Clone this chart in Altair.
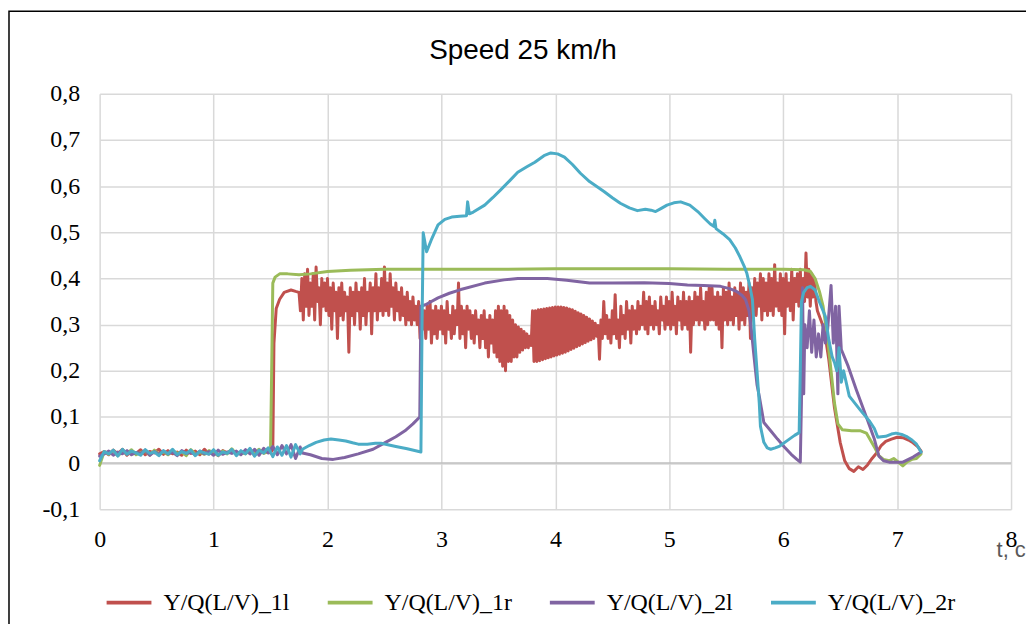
import altair as alt
import pandas as pd

SERIES = ["Y/Q(L/V)_1l", "Y/Q(L/V)_1r", "Y/Q(L/V)_2l", "Y/Q(L/V)_2r"]
COLORS = ["#C0504D", "#9BBB59", "#8064A2", "#4BACC6"]
X_TICKS = [0, 1, 2, 3, 4, 5, 6, 7, 8]
Y_TICKS = [-0.1, 0, 0.1, 0.2, 0.3, 0.4, 0.5, 0.6, 0.7, 0.8]
TITLE = "Speed 25 km/h"
X_TITLE = "t, c"

# ---- low-level start (t = 0, 0.04, 0.08, ...) ----
RED_START = [0.02, 0.025, 0.018, 0.028, 0.02, 0.03, 0.017, 0.026, 0.021, 0.029,
             0.018, 0.025, 0.022, 0.03, 0.019, 0.027, 0.02, 0.024, 0.017, 0.028,
             0.021, 0.026, 0.018, 0.03, 0.02, 0.025, 0.016, 0.027, 0.022, 0.029,
             0.019, 0.024, 0.021, 0.028, 0.017, 0.026, 0.022, 0.025]
GREEN_START = [-0.005, 0.025, 0.019, 0.027, 0.016, 0.024, 0.021, 0.029, 0.018, 0.023,
               0.026, 0.017, 0.028, 0.02, 0.024, 0.018, 0.027, 0.021, 0.025, 0.016,
               0.029, 0.02, 0.023, 0.019, 0.027, 0.022, 0.017, 0.026, 0.02, 0.031,
               0.019, 0.024, 0.02, 0.028, 0.022, 0.03, 0.021, 0.025]
PURPLE_START = [0.015, 0.02, 0.026, 0.017, 0.024, 0.02, 0.027, 0.018, 0.023, 0.021,
                0.028, 0.017, 0.025, 0.019, 0.026, 0.02, 0.024, 0.016, 0.027, 0.021,
                0.023, 0.018, 0.026, 0.02, 0.025, 0.017, 0.028, 0.019, 0.024, 0.021,
                0.026, 0.018, 0.029, 0.02, 0.03, 0.017, 0.032, 0.022, 0.036, 0.018,
                0.038, 0.02, 0.04, 0.01, 0.035]
BLUE_START = [0.005, 0.025, 0.02, 0.028, 0.015, 0.03, 0.019, 0.026, 0.022, 0.017,
              0.029, 0.021, 0.024, 0.016, 0.027, 0.02, 0.03, 0.018, 0.025, 0.021,
              0.028, 0.016, 0.026, 0.022, 0.019, 0.029, 0.017, 0.024, 0.021, 0.03,
              0.016, 0.027, 0.02, 0.032, 0.015, 0.028, 0.022, 0.033, 0.014, 0.035,
              0.017, 0.038, 0.013, 0.04, 0.02]

# ---- red noisy middle (t = 1.75, 1.7625, ... 6.30) ----
RED_MID = [
    0.37, 0.33, 0.40, 0.31, 0.41, 0.34, 0.42, 0.32, 0.39, 0.34,
    0.41, 0.31, 0.425, 0.35, 0.38, 0.30, 0.40, 0.34, 0.39, 0.33,
    0.40, 0.32, 0.38, 0.29, 0.39, 0.33, 0.37, 0.27, 0.38, 0.32,
    0.39, 0.31, 0.37, 0.33, 0.36, 0.24, 0.38, 0.32, 0.37, 0.30,
    0.39, 0.33, 0.37, 0.29, 0.38, 0.32, 0.40, 0.30, 0.37, 0.33,
    0.39, 0.28, 0.38, 0.33, 0.41, 0.31, 0.38, 0.33, 0.40, 0.32,
    0.425, 0.33, 0.39, 0.32, 0.41, 0.34, 0.38, 0.31, 0.39, 0.33,
    0.37, 0.31, 0.38, 0.32, 0.36, 0.30, 0.37, 0.31, 0.35, 0.30,
    0.36, 0.31, 0.34, 0.30, 0.35, 0.27, 0.34, 0.29, 0.33, 0.27,
    0.34, 0.29, 0.35, 0.26, 0.33, 0.28, 0.34, 0.27, 0.33, 0.29,
    0.34, 0.28, 0.33, 0.26, 0.35, 0.29, 0.32, 0.27, 0.34, 0.28,
    0.33, 0.30, 0.39, 0.27, 0.34, 0.28, 0.33, 0.25, 0.34, 0.29,
    0.33, 0.27, 0.32, 0.26, 0.33, 0.28, 0.31, 0.25, 0.32, 0.27,
    0.33, 0.25, 0.31, 0.23, 0.32, 0.26, 0.31, 0.24, 0.33, 0.23,
    0.34, 0.22, 0.33, 0.21, 0.34, 0.20, 0.33, 0.22, 0.32, 0.22,
    0.31, 0.23, 0.30, 0.23, 0.295, 0.24, 0.29, 0.245, 0.285, 0.25,
    0.28, 0.25, 0.275, 0.255, 0.33, 0.22, 0.33, 0.22, 0.332, 0.222,
    0.333, 0.224, 0.334, 0.226, 0.335, 0.228, 0.336, 0.23, 0.337, 0.232,
    0.338, 0.234, 0.338, 0.236, 0.338, 0.238, 0.337, 0.24, 0.336, 0.243,
    0.334, 0.246, 0.332, 0.249, 0.329, 0.252, 0.326, 0.255, 0.323, 0.258,
    0.32, 0.261, 0.316, 0.264, 0.312, 0.267, 0.308, 0.27, 0.303, 0.275,
    0.298, 0.225, 0.31, 0.27, 0.35, 0.28, 0.32, 0.27, 0.31, 0.26,
    0.33, 0.28, 0.365, 0.27, 0.31, 0.25, 0.34, 0.28, 0.32, 0.27,
    0.35, 0.29, 0.33, 0.26, 0.34, 0.29, 0.33, 0.28, 0.35, 0.29,
    0.34, 0.30, 0.37, 0.29, 0.35, 0.28, 0.36, 0.30, 0.34, 0.29,
    0.35, 0.30, 0.33, 0.28, 0.36, 0.31, 0.34, 0.29, 0.36, 0.30,
    0.35, 0.29, 0.37, 0.30, 0.34, 0.28, 0.36, 0.31, 0.35, 0.29,
    0.37, 0.30, 0.35, 0.29, 0.36, 0.24, 0.35, 0.30, 0.37, 0.31,
    0.36, 0.30, 0.38, 0.31, 0.35, 0.29, 0.37, 0.30, 0.38, 0.31,
    0.38, 0.31, 0.36, 0.30, 0.37, 0.29, 0.36, 0.25, 0.38, 0.31,
    0.37, 0.30, 0.39, 0.31, 0.36, 0.30, 0.38, 0.32, 0.37, 0.29,
    0.39, 0.31, 0.38, 0.30, 0.37, 0.32, 0.39, 0.27, 0.38, 0.32,
    0.40, 0.32, 0.39, 0.34, 0.41, 0.31, 0.40, 0.33, 0.39, 0.32,
    0.41, 0.33, 0.40, 0.32, 0.43, 0.34, 0.39, 0.33, 0.41, 0.32,
    0.40, 0.28, 0.41, 0.34, 0.39, 0.33, 0.42, 0.31, 0.40, 0.35,
    0.41, 0.34, 0.42, 0.33, 0.40, 0.35, 0.455, 0.36, 0.42, 0.34,
    0.41, 0.36, 0.40, 0.35, 0.33,
]

# ---- explicit (t, value) pieces ----
RED_RISE_T = [1.50, 1.52, 1.53, 1.55, 1.58, 1.62, 1.68, 1.72]
RED_RISE_V = [0.022, 0.03, 0.26, 0.335, 0.355, 0.37, 0.375, 0.372]
RED_TAIL_T = [6.33, 6.36, 6.40, 6.45, 6.50, 6.54, 6.58, 6.62, 6.66, 6.70, 6.74, 6.78,
              6.82, 6.86, 6.90, 6.95, 7.00, 7.05, 7.10, 7.14, 7.18, 7.21]
RED_TAIL_V = [0.31, 0.29, 0.225, 0.12, 0.045, 0.005, -0.012, -0.018, -0.008, -0.014,
              -0.004, 0.01, 0.022, 0.038, 0.047, 0.052, 0.056, 0.055, 0.05, 0.044,
              0.036, 0.026]

GREEN_T = [1.50, 1.51, 1.52, 1.54, 1.58, 1.65, 1.75, 1.85, 2.0, 2.2, 2.5, 3.0, 3.5,
           4.0, 4.5, 5.0, 5.5, 6.0, 6.18, 6.24, 6.28, 6.32, 6.35, 6.39, 6.42, 6.45,
           6.48, 6.52, 6.60, 6.68, 6.73, 6.76, 6.80, 6.84, 6.88, 6.93, 6.97, 7.00,
           7.05, 7.09, 7.13, 7.17, 7.21]
GREEN_V = [0.03, 0.2, 0.39, 0.403, 0.41, 0.41, 0.408, 0.41, 0.415, 0.418, 0.42, 0.42,
           0.42, 0.421, 0.421, 0.421, 0.42, 0.42, 0.419, 0.415, 0.40, 0.37, 0.34,
           0.27, 0.2, 0.13, 0.085, 0.072, 0.07, 0.07, 0.065, 0.052, 0.035, 0.016,
           0.008, 0.005, 0.01, 0.004, -0.006, 0.003, 0.008, 0.01, 0.02]

PURPLE_T = [1.78, 1.85, 1.95, 2.05, 2.15, 2.27, 2.40, 2.51, 2.60, 2.68, 2.75, 2.81,
            2.82, 2.86, 2.97, 3.07, 3.17, 3.38, 3.55, 3.67, 3.93, 4.10, 4.30, 4.50,
            4.78, 5.00, 5.16, 5.30, 5.45, 5.53, 5.59, 5.64, 5.67, 5.70, 5.72, 5.74,
            5.77, 5.79, 5.83, 5.89, 5.95, 6.01, 6.07, 6.12, 6.15, 6.16, 6.17, 6.18,
            6.19, 6.21, 6.23, 6.25, 6.27, 6.29, 6.31, 6.33, 6.35, 6.37, 6.39, 6.42,
            6.44, 6.46, 6.48, 6.49, 6.51, 6.57, 6.64, 6.73, 6.80, 6.84, 6.88, 6.93,
            7.05, 7.14, 7.21]
PURPLE_V = [0.022, 0.018, 0.01, 0.008, 0.012, 0.02, 0.03, 0.045, 0.057, 0.07, 0.085,
            0.1, 0.34, 0.343, 0.358, 0.368, 0.376, 0.39, 0.397, 0.40, 0.40, 0.396,
            0.39, 0.39, 0.391, 0.389, 0.386, 0.385, 0.383, 0.378, 0.372, 0.363, 0.354,
            0.33, 0.29, 0.24, 0.17, 0.145, 0.088, 0.07, 0.052, 0.035, 0.019, 0.008,
            0.002, 0.13, 0.38, 0.15, 0.30, 0.25, 0.33, 0.24, 0.31, 0.23, 0.28, 0.23,
            0.30, 0.26, 0.29, 0.385, 0.26, 0.34, 0.15, 0.34, 0.246, 0.21, 0.16, 0.10,
            0.052, 0.015, 0.005, 0.002, 0.002, 0.013, 0.024]

BLUE_T = [1.78, 1.84, 1.90, 1.97, 2.03, 2.10, 2.16, 2.22, 2.27, 2.35, 2.42, 2.47,
          2.51, 2.60, 2.70, 2.82, 2.83, 2.84, 2.87, 2.91, 2.97, 3.03, 3.09, 3.16,
          3.22, 3.23, 3.245, 3.28, 3.38, 3.45, 3.52, 3.60, 3.67, 3.75, 3.82, 3.90,
          3.96, 4.02, 4.08, 4.15, 4.22, 4.30, 4.37, 4.43, 4.50, 4.57, 4.65, 4.72,
          4.79, 4.84, 4.88, 4.93, 4.98, 5.04, 5.10, 5.18, 5.25, 5.31, 5.36, 5.39,
          5.40, 5.41, 5.47, 5.53, 5.58, 5.62, 5.66, 5.68, 5.71, 5.73, 5.75, 5.77,
          5.79, 5.80, 5.83, 5.86, 5.89, 5.93, 5.97, 6.02, 6.06, 6.10, 6.14, 6.15,
          6.16, 6.18, 6.21, 6.24, 6.28, 6.32, 6.37, 6.40, 6.43, 6.45, 6.47, 6.49,
          6.51, 6.53, 6.58, 6.67, 6.76, 6.80, 6.83, 6.86, 6.90, 6.95, 6.99, 7.04,
          7.08, 7.13, 7.17, 7.21]
BLUE_V = [0.03, 0.038, 0.045, 0.05, 0.052, 0.05, 0.048, 0.044, 0.041, 0.041, 0.043,
          0.043, 0.041, 0.036, 0.031, 0.024, 0.3, 0.499, 0.458, 0.483, 0.516, 0.528,
          0.533, 0.535, 0.536, 0.566, 0.54, 0.544, 0.559, 0.575, 0.592, 0.612, 0.63,
          0.642, 0.652, 0.666, 0.672, 0.67, 0.663, 0.647, 0.628, 0.61, 0.598, 0.588,
          0.575, 0.563, 0.553, 0.547, 0.55, 0.548, 0.545, 0.552, 0.559, 0.564, 0.566,
          0.559, 0.545, 0.53, 0.518, 0.513, 0.526, 0.508, 0.497, 0.484, 0.466, 0.447,
          0.425, 0.412, 0.38, 0.354, 0.268, 0.2, 0.13, 0.08, 0.045, 0.033, 0.03,
          0.033, 0.037, 0.046, 0.053, 0.06, 0.066, 0.2, 0.35, 0.37, 0.38, 0.383,
          0.375, 0.348, 0.318, 0.268, 0.23, 0.218, 0.2, 0.25, 0.175, 0.2, 0.145,
          0.117, 0.09, 0.075, 0.056, 0.057, 0.058, 0.063, 0.065, 0.062, 0.058, 0.05,
          0.041, 0.024]

STEP_START = 0.04
STEP_MID = 0.0125


def start_times(vals):
    return [round(STEP_START * k, 3) for k in range(len(vals))]


red_t = start_times(RED_START) + RED_RISE_T + \
    [round(1.75 + STEP_MID * k, 4) for k in range(len(RED_MID))] + RED_TAIL_T
red_v = RED_START + RED_RISE_V + RED_MID + RED_TAIL_V
green_t = start_times(GREEN_START) + GREEN_T
green_v = GREEN_START + GREEN_V
purple_t = start_times(PURPLE_START) + PURPLE_T
purple_v = PURPLE_START + PURPLE_V
blue_t = start_times(BLUE_START) + BLUE_T
blue_v = BLUE_START + BLUE_V

rows = []
for name, ts, vs in zip(SERIES, [red_t, green_t, purple_t, blue_t],
                        [red_v, green_v, purple_v, blue_v]):
    for i, (t, v) in enumerate(zip(ts, vs)):
        rows.append({"series": name, "t": t, "v": v, "i": i})
df = pd.DataFrame(rows)

y_label_expr = ("datum.value == 0 ? '0' : (datum.value < 0 ? '-' : '') + "
                "replace(format(abs(datum.value), '.1f'), '.', ',')")

lines = alt.Chart(df).mark_line(strokeWidth=3, strokeJoin="round", strokeCap="round").encode(
    x=alt.X("t:Q", scale=alt.Scale(domain=[0, 8], nice=False, zero=False),
            axis=alt.Axis(values=X_TICKS, format="d", title=X_TITLE,
                          titleX=900, titleY=47, titleAlign="left",
                          titleBaseline="alphabetic", titleAngle=0,
                          titleFont="Liberation Sans", titleFontSize=22,
                          titleFontWeight="normal", titleColor="#595959",
                          labelFont="Liberation Serif", labelFontSize=24,
                          labelColor="#000000", labelPadding=18, labelFlush=False,
                          grid=True, gridColor="#D9D9D9", gridWidth=1.5,
                          domain=False, ticks=False)),
    y=alt.Y("v:Q", scale=alt.Scale(domain=[-0.1, 0.8], nice=False, zero=False),
            axis=alt.Axis(values=Y_TICKS, labelExpr=y_label_expr, title=None,
                          labelFont="Liberation Serif", labelFontSize=24,
                          labelColor="#000000", labelPadding=20, labelFlush=False,
                          grid=True, gridColor="#D9D9D9", gridWidth=1.5,
                          domain=False, ticks=False)),
    color=alt.Color("series:N",
                    scale=alt.Scale(domain=SERIES, range=COLORS),
                    legend=alt.Legend(title=None, orient="none", legendX=5, legendY=486,
                                      direction="horizontal", columns=4,
                                      symbolType="stroke", symbolSize=2025,
                                      symbolStrokeWidth=4, labelOffset=10,
                                      columnPadding=30, padding=0,
                                      labelFont="Liberation Serif", labelFontSize=24,
                                      labelColor="#000000", labelLimit=300)),
    order=alt.Order("i:Q"),
    detail="series:N",
)

zero_rule = alt.Chart(pd.DataFrame({"y": [0]})).mark_rule(
    color="#BFBFBF", strokeWidth=1.5).encode(y="y:Q")

title_text = alt.Chart(pd.DataFrame({"txt": [TITLE]})).mark_text(
    font="Liberation Sans", fontSize=28, color="#000000", align="center",
    baseline="alphabetic").encode(
    x=alt.value(425), y=alt.value(-35), text="txt:N")

border = alt.Chart(pd.DataFrame({"a": [0]})).mark_rect(
    filled=False, stroke="#000000", strokeWidth=1.5).encode(
    x=alt.value(-91), x2=alt.value(960), y=alt.value(-83), y2=alt.value(560))

chart = alt.layer(zero_rule, lines, title_text, border).properties(
    width=915, height=417,
    padding={"left": 92, "top": 85, "right": 15, "bottom": 114},
    autosize=alt.AutoSizeParams(type="none"),
).configure_view(stroke=None)

chart.save("out.html", embed_options={"renderer": "svg", "actions": False})
